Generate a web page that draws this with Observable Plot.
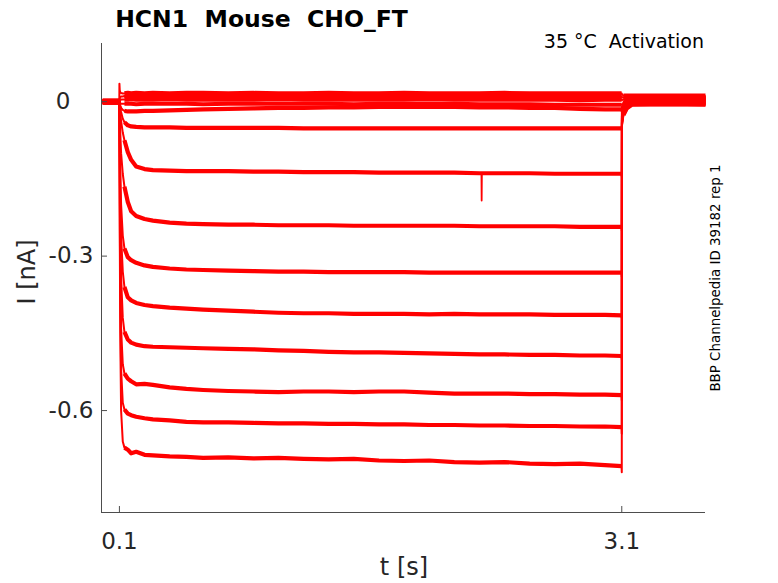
<!DOCTYPE html>
<html><head><meta charset="utf-8">
<script src="https://cdn.jsdelivr.net/npm/d3@7"></script>
<script src="https://cdn.jsdelivr.net/npm/@observablehq/plot@0.6"></script>
<style>
body{margin:0;background:#fff}
svg{font-family:"DejaVu Sans",sans-serif}
</style>
</head><body>
<div id="chart"></div>
<script>
// shared time base [s]: pre-step (2), step (31), tail (7)
const tAll = [0, 0.0995,
  0.1, 0.102, 0.105, 0.11, 0.12, 0.13, 0.15, 0.17, 0.2, 0.25, 0.3, 0.4, 0.5, 0.6, 0.75, 0.9, 1.05, 1.2, 1.35, 1.5, 1.65, 1.8, 1.95, 2.1, 2.25, 2.4, 2.55, 2.7, 2.85, 3.0, 3.099,
  3.1, 3.101, 3.11, 3.13, 3.16, 3.38, 3.6];

// current sweeps [nA]
const iA = [0.002, 0.002,
  0.035, 0.022, 0.018, 0.017, 0.016, 0.016, 0.017, 0.016, 0.017, 0.016, 0.017, 0.016, 0.017, 0.017, 0.016, 0.017, 0.016, 0.016, 0.017, 0.016, 0.016, 0.017, 0.016, 0.016, 0.016, 0.017, 0.016, 0.016, 0.016, 0.016, 0.016,
  0.016, 0.014, 0.012, 0.012, 0.012, 0.012, 0.012];
const iB = [0.001, 0.001,
  0.0, 0.006, 0.009, 0.010, 0.010, 0.011, 0.010, 0.010, 0.011, 0.010, 0.010, 0.011, 0.010, 0.010, 0.011, 0.010, 0.010, 0.010, 0.011, 0.010, 0.010, 0.010, 0.011, 0.010, 0.010, 0.010, 0.010, 0.011, 0.010, 0.010, 0.010,
  0.010, 0.008, 0.008, 0.008, 0.007, 0.008, 0.008];
const iC = [0.0, 0.0,
  0.0, 0.002, 0.003, 0.004, 0.004, 0.004, 0.004, 0.005, 0.004, 0.004, 0.004, 0.005, 0.004, 0.004, 0.004, 0.004, 0.005, 0.004, 0.004, 0.004, 0.004, 0.004, 0.005, 0.004, 0.004, 0.004, 0.004, 0.004, 0.003, 0.004, 0.004,
  0.004, 0.003, 0.004, 0.004, 0.004, 0.004, 0.004];
const iD = [-0.001, -0.001,
  0.0, -0.002, -0.003, -0.004, -0.004, -0.004, -0.004, -0.004, -0.005, -0.004, -0.004, -0.004, -0.004, -0.005, -0.004, -0.004, -0.004, -0.004, -0.004, -0.005, -0.004, -0.004, -0.004, -0.004, -0.005, -0.005, -0.005, -0.006, -0.006, -0.006, -0.006,
  -0.006, -0.005, -0.005, -0.005, -0.005, -0.005, -0.005];
const iE = [0.001, 0.001,
  0.0, -0.003, -0.007, -0.012, -0.016, -0.018, -0.019, -0.019, -0.019, -0.018, -0.018, -0.017, -0.016, -0.015, -0.014, -0.013, -0.012, -0.012, -0.011, -0.011, -0.010, -0.010, -0.010, -0.010, -0.011, -0.011, -0.012, -0.012, -0.014, -0.015, -0.015,
  -0.020, -0.010, -0.004, -0.002, -0.002, -0.003, -0.002];
const iF = [0.0, 0.0,
  0.0, -0.004, -0.010, -0.020, -0.033, -0.040, -0.046, -0.048, -0.049, -0.050, -0.050, -0.050, -0.051, -0.051, -0.051, -0.051, -0.051, -0.052, -0.052, -0.052, -0.052, -0.052, -0.052, -0.052, -0.052, -0.052, -0.052, -0.052, -0.052, -0.052, -0.052,
  -0.055, -0.015, -0.004, 0.002, 0.006, 0.008, 0.007];
const iG = [-0.002, -0.002,
  0.0, -0.008, -0.020, -0.038, -0.060, -0.075, -0.098, -0.113, -0.126, -0.131, -0.133, -0.134, -0.135, -0.135, -0.135, -0.136, -0.136, -0.137, -0.137, -0.137, -0.138, -0.138, -0.138, -0.138, -0.139, -0.139, -0.139, -0.140, -0.140, -0.140, -0.140,
  -0.145, -0.022, -0.008, 0.0, 0.008, 0.010, 0.009];
const iH = [0.002, 0.002,
  0.0, -0.030, -0.060, -0.100, -0.140, -0.165, -0.195, -0.213, -0.222, -0.228, -0.231, -0.235, -0.237, -0.238, -0.239, -0.239, -0.240, -0.240, -0.240, -0.241, -0.241, -0.241, -0.241, -0.241, -0.242, -0.242, -0.242, -0.242, -0.243, -0.243, -0.243,
  -0.250, -0.028, -0.012, -0.002, 0.006, 0.007, 0.006];
const iI = [0.0, 0.0,
  0.0, -0.060, -0.130, -0.200, -0.260, -0.285, -0.302, -0.308, -0.313, -0.318, -0.321, -0.324, -0.326, -0.327, -0.328, -0.329, -0.330, -0.330, -0.331, -0.331, -0.331, -0.331, -0.332, -0.332, -0.332, -0.332, -0.332, -0.332, -0.332, -0.332, -0.332,
  -0.340, -0.032, -0.015, -0.004, 0.004, 0.005, 0.004];
const iJ = [-0.001, -0.001,
  0.0, -0.080, -0.170, -0.260, -0.330, -0.360, -0.380, -0.386, -0.391, -0.395, -0.397, -0.400, -0.402, -0.404, -0.406, -0.408, -0.410, -0.411, -0.411, -0.412, -0.412, -0.412, -0.413, -0.412, -0.413, -0.413, -0.413, -0.414, -0.414, -0.414, -0.415,
  -0.420, -0.036, -0.018, -0.006, 0.002, 0.003, 0.002];
const iK = [0.001, 0.001,
  0.0, -0.110, -0.230, -0.340, -0.420, -0.447, -0.462, -0.468, -0.472, -0.475, -0.476, -0.477, -0.478, -0.479, -0.480, -0.481, -0.483, -0.484, -0.486, -0.487, -0.487, -0.488, -0.489, -0.490, -0.491, -0.491, -0.492, -0.492, -0.493, -0.493, -0.494,
  -0.500, -0.040, -0.020, -0.008, 0.0, 0.001, 0.0];
const iL = [-0.002, -0.002,
  0.0, -0.150, -0.300, -0.440, -0.510, -0.528, -0.538, -0.543, -0.549, -0.548, -0.550, -0.555, -0.558, -0.560, -0.562, -0.563, -0.564, -0.563, -0.563, -0.564, -0.563, -0.563, -0.565, -0.567, -0.567, -0.567, -0.568, -0.568, -0.569, -0.569, -0.570,
  -0.580, -0.042, -0.022, -0.010, -0.002, -0.001, -0.002];
const iM = [0.0, 0.0,
  0.0, -0.200, -0.380, -0.520, -0.585, -0.598, -0.606, -0.609, -0.612, -0.615, -0.617, -0.619, -0.622, -0.623, -0.623, -0.624, -0.625, -0.625, -0.626, -0.626, -0.627, -0.627, -0.628, -0.628, -0.629, -0.629, -0.630, -0.630, -0.631, -0.631, -0.632,
  -0.645, -0.045, -0.024, -0.012, -0.004, -0.003, -0.004];
const iN = [0.001, 0.001,
  0.0, -0.250, -0.450, -0.600, -0.660, -0.672, -0.676, -0.683, -0.680, -0.686, -0.687, -0.689, -0.690, -0.692, -0.691, -0.693, -0.692, -0.694, -0.695, -0.694, -0.697, -0.698, -0.697, -0.700, -0.701, -0.700, -0.703, -0.704, -0.703, -0.706, -0.708,
  -0.720, -0.047, -0.026, -0.013, -0.006, -0.005, -0.006];

// short artefact on one sweep
const artT = [2.262, 2.2632, 2.2645];
const artI = [-0.139, -0.192, -0.139];

const xTicks = [0.1, 3.1];
const xTickLabels = ["0.1", "3.1"];
const yTicks = [0, -0.3, -0.6];
const yTickLabels = ["0", "-0.3", "-0.6"];
const xDomain = [-0.007, 3.6];
const yDomain = [-0.798, 0.113];

const sweeps = [iA, iB, iC, iD, iE, iF, iG, iH, iI, iJ, iK, iL, iM, iN];

// split each sweep into noisy (thick) plateaus and fast (thin) transients
const thickRows = [], thinRows = [];
sweeps.forEach((vals, k) => {
  vals.forEach((v, j) => {
    const r = {t: tAll[j], i: v};
    if (j <= 1) thickRows.push({...r, z: k * 10 + 0});
    if (j >= 1 && j <= 7) thinRows.push({...r, z: k * 10 + 1});
    if (j >= 7 && j <= 32) thickRows.push({...r, z: k * 10 + 2});
    if (j >= 32 && j <= 35) thinRows.push({...r, z: k * 10 + 3});
    if (j >= 35) thickRows.push({...r, z: k * 10 + 4});
  });
});
const artRows = artT.map((t, j) => ({t, i: artI[j]}));

const W = 778, H = 583, mL = 101, mR = 73, mT = 43, mB = 71;
const axisColor = "#4d4d4d", textColor = "#262626";
const red = "#ff0000";

const chart = Plot.plot({
  width: W, height: H,
  marginLeft: mL, marginRight: mR, marginTop: mT, marginBottom: mB,
  x: {domain: xDomain, axis: null},
  y: {domain: yDomain, axis: null},
  style: {fontFamily: "DejaVu Sans", background: "white", overflow: "visible"},
  marks: [
    Plot.line(thinRows, {x: "t", y: "i", z: "z", stroke: red, strokeWidth: 2, strokeLinejoin: "round"}),
    Plot.line(thickRows, {x: "t", y: "i", z: "z", stroke: red, strokeWidth: 4.2, strokeLinejoin: "round", strokeLinecap: "butt"}),
    Plot.line(artRows, {x: "t", y: "i", stroke: red, strokeWidth: 1.8}),
    Plot.ruleX([xDomain[0]], {stroke: axisColor, strokeWidth: 1}),
    Plot.ruleY([yDomain[0]], {stroke: axisColor, strokeWidth: 1}),
    Plot.tickX(xTicks, {x: d => d, insetTop: (H - mT - mB) - 6, stroke: axisColor}),
    Plot.tickY(yTicks, {y: d => d, insetRight: (W - mL - mR) - 6, stroke: axisColor}),
    Plot.text(xTicks, {x: d => d, text: (d, i) => xTickLabels[i], frameAnchor: "bottom", lineAnchor: "top", dy: 20, fontSize: 23, fill: textColor}),
    Plot.text(yTicks.slice(1), {y: d => d, text: (d, i) => yTickLabels[i + 1], frameAnchor: "left", textAnchor: "end", dx: -8, fontSize: 23, fill: textColor}),
    Plot.text(yTicks.slice(0, 1), {y: d => d, text: (d, i) => yTickLabels[i], frameAnchor: "left", textAnchor: "end", dx: -31, fontSize: 23, fill: textColor})
  ]
});

const svg = d3.select(chart);
svg.append("text").attr("x", 261.5).attr("y", 27).attr("text-anchor", "middle")
  .attr("font-size", 23.5).attr("font-weight", "bold").attr("fill", "#000")
  .text("HCN1\u00a0\u00a0Mouse\u00a0\u00a0CHO_FT");
svg.append("text").attr("x", 704).attr("y", 47.5).attr("text-anchor", "end")
  .attr("font-size", 19).attr("fill", "#000")
  .text("35 \u00b0C\u00a0\u00a0Activation");
svg.append("text").attr("transform", "translate(720,278) rotate(-90)").attr("text-anchor", "middle")
  .attr("font-size", 13.4).attr("fill", "#000")
  .text("BBP Channelpedia ID 39182 rep 1");
svg.append("text").attr("transform", "translate(35,272) rotate(-90)").attr("text-anchor", "middle")
  .attr("font-size", 24).attr("fill", textColor)
  .text("I [nA]");
svg.append("text").attr("x", 404).attr("y", 575).attr("text-anchor", "middle")
  .attr("font-size", 24).attr("fill", textColor)
  .text("t [s]");

document.getElementById("chart").appendChild(chart);
</script>
</body></html>
